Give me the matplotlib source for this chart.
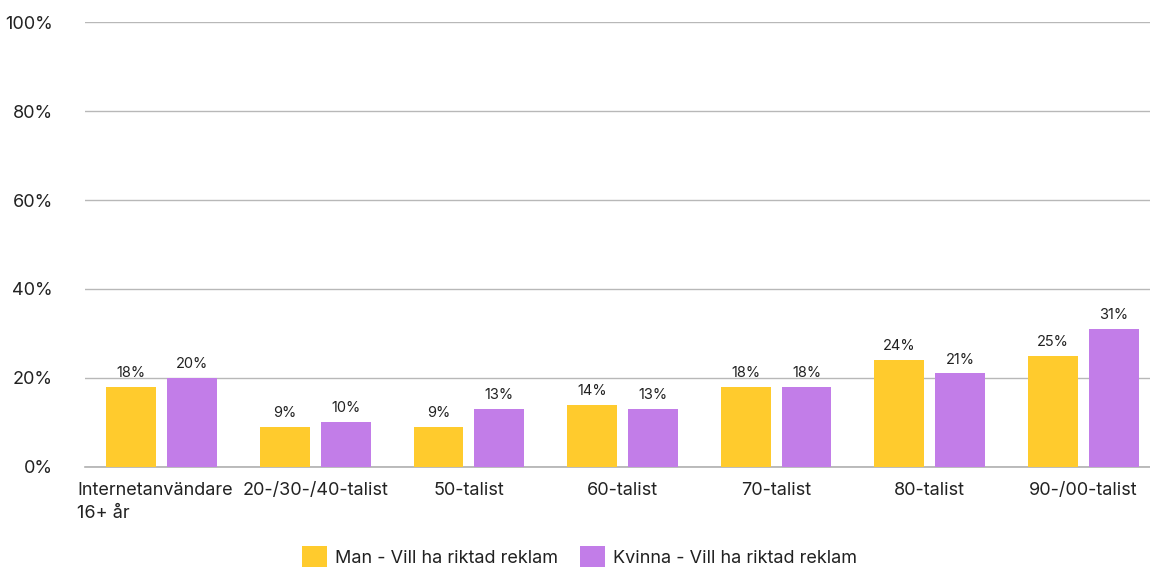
import numpy as np
import matplotlib.pyplot as plt
from matplotlib.transforms import ScaledTranslation

plt.rcParams['font.family'] = ['Inter', 'DejaVu Sans']

categories = ['Internetanvändare\n16+ år', '20-/30-/40-talist', '50-talist', '60-talist',
              '70-talist', '80-talist', '90-/00-talist']
man = [18, 9, 9, 14, 18, 24, 25]
kvinna = [20, 10, 13, 13, 18, 21, 31]
series_names = ['Man - Vill ha riktad reklam', 'Kvinna - Vill ha riktad reklam']
colors = ['#FFCB2D', '#C27DE8']

fig = plt.figure(figsize=(11.5, 5.68), dpi=100)
ax = fig.add_axes([0.0739, 0.178, 1075 / 1150, 0.783])

x = np.arange(len(categories))
w = 0.325
off = 0.198
b1 = ax.bar(x - off, man, w, color=colors[0], label=series_names[0], zorder=3)
b2 = ax.bar(x + off, kvinna, w, color=colors[1], label=series_names[1], zorder=3)
for bars in (b1, b2):
    ax.bar_label(bars, labels=[f'{v}%' for v in bars.datavalues], padding=5,
                 fontsize=10.5, color='#222222')

ax.set_xlim(-0.5, len(categories) - 0.5)
ax.set_ylim(0, 100)
ax.set_yticks(range(0, 101, 20))
ax.grid(axis='y', color='#b8b8b8', linewidth=1, zorder=0)
ax.axhline(0, color='#b0b0b0', linewidth=1.2, clip_on=False, zorder=2)
for s in ax.spines.values():
    s.set_visible(False)
ax.tick_params(axis='y', length=0, pad=23, labelsize=13, labelcolor='#222222')
ax.tick_params(axis='x', length=0, pad=11, labelsize=13, labelcolor='#222222')
ax.set_xticks(x)
ax.set_xticklabels(categories, multialignment='left', linespacing=1.45)
ax.set_yticklabels([f'{v}%' for v in range(0, 101, 20)])

# first label sits a little left of its group, as in the original
first = ax.get_xticklabels()[0]
first.set_transform(first.get_transform() + ScaledTranslation(-7 / 100, 0, fig.dpi_scale_trans))

leg = ax.legend(loc='lower center', bbox_to_anchor=(0.46, -0.262), ncol=2, frameon=False,
                fontsize=13, handlelength=1.4, handleheight=1.4, handletextpad=0.45,
                columnspacing=1.2)
for t in leg.get_texts():
    t.set_color('#222222')

fig.savefig('out.png', dpi=100)
